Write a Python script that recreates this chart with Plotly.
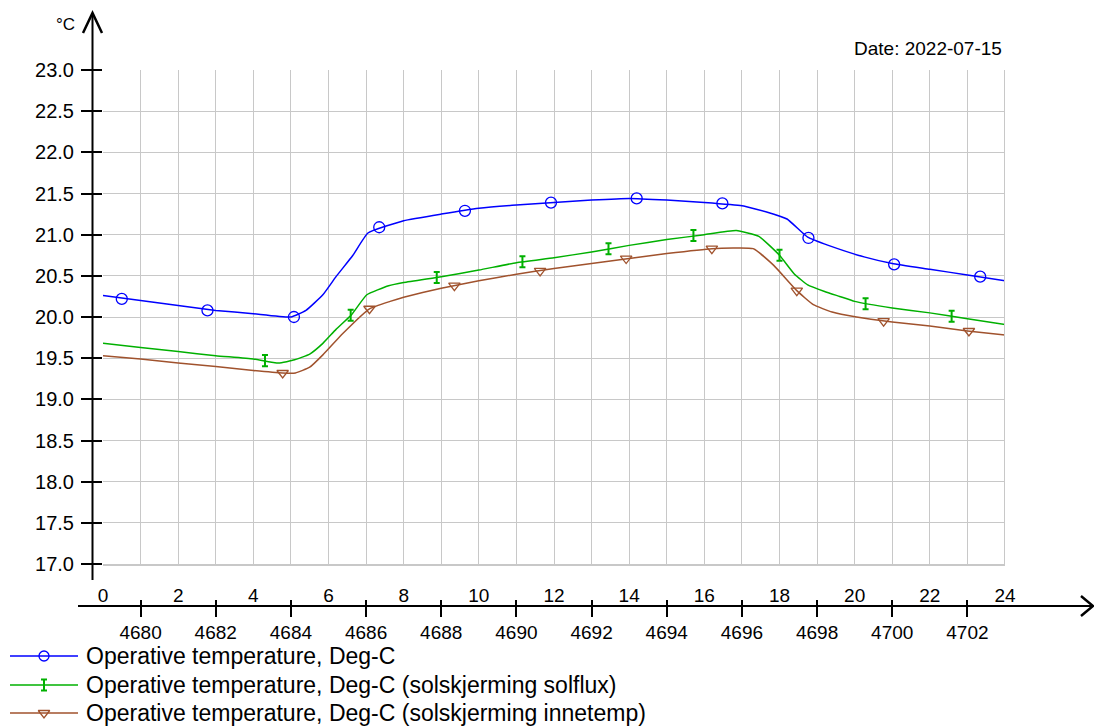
import plotly.graph_objects as go

W, H = 1094, 726

# ---------------- data ----------------
hour_ticks = list(range(0, 25, 2))
step_ticks = list(range(4680, 4703, 2))
temp_ticks = [17.0, 17.5, 18.0, 18.5, 19.0, 19.5, 20.0, 20.5, 21.0, 21.5, 22.0, 22.5, 23.0]

blue_hours = [0, 1, 2, 3, 4, 5, 5.4, 5.85, 6.2, 6.65, 7.05, 8, 9, 10, 11, 12, 13, 14, 15, 16, 17,
              17.7, 18.2, 18.75, 19.3, 20.25, 21, 22, 23, 24]
blue_temp = [20.26, 20.20, 20.14, 20.08, 20.04, 20.00, 20.08, 20.27, 20.49, 20.75, 21.02, 21.17, 21.25,
             21.32, 21.36, 21.39, 21.42, 21.44, 21.42, 21.39, 21.35, 21.27, 21.19, 20.97, 20.87, 20.73,
             20.65, 20.58, 20.51, 20.44]
blue_mark_hours = [0.5, 2.78, 5.08, 7.35, 9.63, 11.92, 14.2, 16.48, 18.77, 21.05, 23.34]
blue_mark_temp = [20.22, 20.08, 20.00, 21.09, 21.29, 21.39, 21.44, 21.38, 20.96, 20.64, 20.49]

green_hours = [0, 1, 2, 3, 4, 4.67, 5.1, 5.5, 5.85, 6.2, 6.6, 7.02, 7.6, 8, 9, 10, 11, 12, 13, 14, 15,
               16, 16.85, 17.45, 18.0, 18.4, 18.75, 19.2, 19.6, 20, 21, 22, 23, 24]
green_temp = [19.68, 19.63, 19.58, 19.53, 19.49, 19.44, 19.48, 19.55, 19.68, 19.85, 20.02, 20.27, 20.38,
              20.42, 20.49, 20.57, 20.66, 20.72, 20.79, 20.87, 20.94, 21.00, 21.05, 20.98, 20.75, 20.52,
              20.39, 20.31, 20.25, 20.19, 20.11, 20.05, 19.98, 19.91]
green_mark_hours = [4.31, 6.59, 8.88, 11.16, 13.45, 15.71, 18.0, 20.29, 22.58]
green_mark_temp = [19.47, 20.02, 20.48, 20.67, 20.83, 20.99, 20.75, 20.16, 20.01]

brown_hours = [0, 1, 2, 3, 4, 4.78, 5.12, 5.5, 5.85, 6.38, 7.09, 7.64, 8, 9, 10, 11, 12, 13, 14, 15,
               16.2, 17.3, 17.84, 18.46, 18.9, 19.4, 20.05, 21, 22, 23, 24]
brown_temp = [19.53, 19.49, 19.44, 19.40, 19.35, 19.32, 19.32, 19.39, 19.54, 19.80, 20.10, 20.19, 20.24,
              20.35, 20.44, 20.52, 20.59, 20.65, 20.71, 20.77, 20.83, 20.83, 20.63, 20.32, 20.15, 20.06,
              20.00, 19.94, 19.89, 19.83, 19.78]
brown_mark_hours = [4.78, 7.09, 9.35, 11.63, 13.92, 16.2, 18.46, 20.77, 23.04]
brown_mark_temp = [19.32, 20.10, 20.38, 20.56, 20.71, 20.83, 20.32, 19.95, 19.83]

series_names = ["Operative temperature, Deg-C",
                "Operative temperature, Deg-C (solskjerming solflux)",
                "Operative temperature, Deg-C (solskjerming innetemp)"]
date_text = "Date: 2022-07-15"
unit_text = "°C"

# ---------------- style ----------------
BLUE, GREEN, BROWN = "#0000FF", "#00B000", "#A0522D"
GRID = "#C8C8C8"
FONT = "Arial, Liberation Sans, sans-serif"


def px(x):
    return x / W


def py(y):
    return 1 - y / H


fig = go.Figure()

# lines
for xs, ys, c, nm in [(blue_hours, blue_temp, BLUE, series_names[0]),
                      (green_hours, green_temp, GREEN, series_names[1]),
                      (brown_hours, brown_temp, BROWN, series_names[2])]:
    fig.add_trace(go.Scatter(x=xs, y=ys, mode="lines", name=nm,
                             line=dict(color=c, width=1.5, shape="spline", smoothing=0.4),
                             showlegend=False))

# markers
fig.add_trace(go.Scatter(x=blue_mark_hours, y=blue_mark_temp, mode="markers", showlegend=False, name=series_names[0],
                         marker=dict(symbol="circle-open", size=11, color=BLUE, line=dict(width=1.3, color=BLUE))))
fig.add_trace(go.Scatter(x=green_mark_hours, y=green_mark_temp, mode="markers", showlegend=False, name=series_names[1],
                         marker=dict(size=1, color=GREEN, opacity=0),
                         error_y=dict(type="constant", value=0.067, color=GREEN, thickness=2, width=3)))
fig.add_trace(go.Scatter(x=brown_mark_hours, y=brown_mark_temp, mode="markers", showlegend=False, name=series_names[2],
                         marker=dict(symbol="triangle-down-open", size=10, color=BROWN, line=dict(width=1.3, color=BROWN))))

# secondary step axis traces (invisible, to activate axes)
fig.add_trace(go.Scatter(x=[step_ticks[0]], y=[None], xaxis="x2", showlegend=False, hoverinfo="skip"))
fig.add_trace(go.Scatter(x=[step_ticks[0]], y=[None], xaxis="x3", showlegend=False, hoverinfo="skip"))

# ---------------- manual legend (pixel overlay axes) ----------------
legend_rows = [656, 685, 713]
legend_styles = [(BLUE, "circle-open"), (GREEN, None), (BROWN, "triangle-down-open")]
for row, name, (c, sym) in zip(legend_rows, series_names, legend_styles):
    fig.add_shape(type="line", xref="paper", yref="paper", x0=px(10), x1=px(78), y0=py(row), y1=py(row),
                  line=dict(color=c, width=1.5))
    if sym:
        fig.add_trace(go.Scatter(x=[44], y=[row], xaxis="x4", yaxis="y4", mode="markers", showlegend=False,
                                 hoverinfo="skip",
                                 marker=dict(symbol=sym, size=10, color=c, line=dict(width=1.3, color=c))))
    else:
        fig.add_trace(go.Scatter(x=[44], y=[row], xaxis="x4", yaxis="y4", mode="markers", showlegend=False,
                                 hoverinfo="skip", marker=dict(size=1, color=c, opacity=0),
                                 error_y=dict(type="constant", value=5.5, color=c, thickness=2, width=3)))
    fig.add_annotation(text=name, xref="paper", yref="paper", x=px(84), y=py(row), xanchor="left",
                       yanchor="middle", showarrow=False, font=dict(size=23, family=FONT, color="#000"))

fig.update_layout(
    width=W, height=H,
    margin=dict(l=0, r=0, t=0, b=0, autoexpand=False),
    paper_bgcolor="white", plot_bgcolor="rgba(0,0,0,0)",
    font=dict(family=FONT, size=19, color="#000000"),
    showlegend=False,
    xaxis=dict(domain=[px(103), px(1005)], range=[0, 24], tickvals=hour_ticks, ticktext=[str(v) for v in hour_ticks],
               ticks="", showgrid=True, gridcolor=GRID, gridwidth=1, automargin=False,
               minor=dict(dtick=1, showgrid=True, gridcolor=GRID, gridwidth=1),
               showline=True, linecolor=GRID, linewidth=2, zeroline=False,
               ticklabelstandoff=13, tickfont=dict(size=19)),
    xaxis2=dict(overlaying="x", anchor="free", position=py(606), side="bottom", range=[4679, 4703],
                tickvals=step_ticks, ticks="outside", ticklen=10, tickwidth=1.5, tickcolor="#000", automargin=False,
                showgrid=False, showline=False, zeroline=False, tickfont=dict(size=19), ticklabelstandoff=-1),
    xaxis3=dict(overlaying="x", anchor="free", position=py(606), side="bottom", range=[4679, 4703],
                tickvals=step_ticks, ticks="inside", ticklen=6, tickwidth=1.5, tickcolor="#000", automargin=False,
                showticklabels=False, showgrid=False, showline=False, zeroline=False),
    yaxis=dict(domain=[py(564), py(70)], range=[17, 23], tickvals=temp_ticks, automargin=False,
               ticktext=[f"{v:.1f}" for v in temp_ticks], ticks="outside", ticklen=21, tickwidth=1.5,
               tickcolor="#000", showgrid=True, gridcolor=GRID, gridwidth=1, zeroline=False,
               showline=False, tickfont=dict(size=20), ticklabelstandoff=3),
    xaxis4=dict(domain=[0, 1], range=[0, W], visible=False, anchor="y4", fixedrange=True),
    yaxis4=dict(domain=[0, 1], range=[H, 0], visible=False, anchor="x4", fixedrange=True),
)

# right border of plot
fig.add_shape(type="line", xref="x", yref="y", x0=24, x1=24, y0=17, y1=23, line=dict(color=GRID, width=2))

# axis lines with arrows
fig.add_shape(type="line", xref="paper", yref="paper", x0=px(92.5), x1=px(92.5), y0=py(580), y1=py(13),
              line=dict(color="#000", width=2))
fig.add_shape(type="path", xref="paper", yref="paper",
              path=f"M {px(83)},{py(33)} L {px(92.5)},{py(13)} L {px(102)},{py(33)}",
              line=dict(color="#000", width=2.5))
fig.add_shape(type="line", xref="paper", yref="paper", x0=px(78), x1=px(1093), y0=py(606), y1=py(606),
              line=dict(color="#000", width=2))
fig.add_shape(type="path", xref="paper", yref="paper",
              path=f"M {px(1081)},{py(596)} L {px(1093)},{py(606)} L {px(1081)},{py(616)}",
              line=dict(color="#000", width=2.5))

fig.add_annotation(text=unit_text, xref="paper", yref="paper", x=px(77), y=py(25), xanchor="right",
                   yanchor="middle", showarrow=False, font=dict(size=17, family=FONT))
fig.add_annotation(text=date_text, xref="paper", yref="paper", x=px(1004), y=py(48), xanchor="right",
                   yanchor="middle", showarrow=False, font=dict(size=19, family=FONT))

fig.write_html("out.html", config={"displayModeBar": False},
               post_script="document.body.style.margin='0';document.body.style.overflow='hidden';")
